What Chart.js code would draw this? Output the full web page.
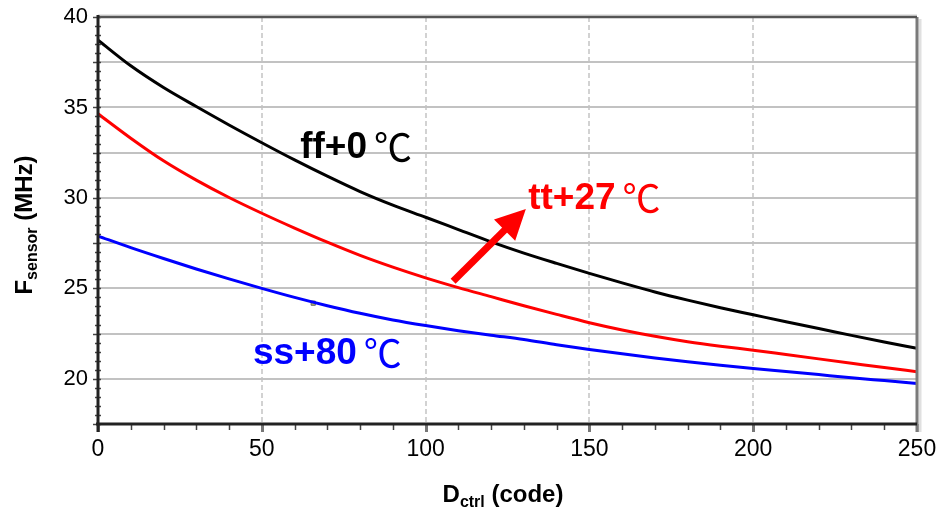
<!DOCTYPE html>
<html>
<head>
<meta charset="utf-8">
<script src="https://cdn.jsdelivr.net/npm/chart.js@4.4.1/dist/chart.umd.min.js"></script>
<style>
  body { margin: 0; background: #fff; }
  #wrap { width: 939px; height: 510px; }
</style>
</head>
<body>
<div id="wrap"><canvas id="sensor" width="939" height="510"></canvas></div>
<script>
// values
var codes = [0, 10, 20, 30, 40, 50, 60, 70, 80, 90, 100, 110, 120, 130, 140, 150, 160, 170, 180, 190, 200, 210, 220, 230, 240, 250];
var ffValues = [38.72, 37.3, 36.1, 35.05, 34.03, 33.05, 32.1, 31.2, 30.35, 29.6, 28.93, 28.25, 27.57, 26.95, 26.38, 25.83, 25.3, 24.8, 24.35, 23.93, 23.54, 23.15, 22.78, 22.4, 22.03, 21.68];
var ttValues = [34.65, 33.3, 32.05, 30.98, 30.02, 29.15, 28.33, 27.55, 26.82, 26.17, 25.58, 25.04, 24.54, 24.04, 23.56, 23.1, 22.7, 22.35, 22.05, 21.8, 21.58, 21.34, 21.1, 20.86, 20.62, 20.39];
var ssValues = [27.89, 27.25, 26.65, 26.07, 25.52, 25.0, 24.5, 24.04, 23.62, 23.25, 22.94, 22.66, 22.41, 22.17, 21.88, 21.62, 21.38, 21.15, 20.94, 20.75, 20.57, 20.4, 20.23, 20.06, 19.9, 19.74];
var markerCode = [65.7];
var markerValue = [24.18];

var seriesNames = ['ff+0', 'tt+27', 'ss+80'];
var seriesColors = ['#000000', '#ff0000', '#0000ff'];

var yMin = 17.5, yMax = 40, yStep = 2.5;
var xMin = 0, xMax = 250, xStep = 50;

// annotation anchors in data units (code, MHz)
var notes = [
  { text: 'ff+0', x: 61.7, y: 32.2, color: '#000000' },
  { text: 'tt+27', x: 131.3, y: 29.39, color: '#ff0000' },
  { text: 'ss+80', x: 47.3, y: 20.83, color: '#0000ff' }
];
var arrowFrom = { x: 108.4, y: 25.39 };
var arrowTo = { x: 130.6, y: 29.39 };

var SANS = '"Liberation Sans", Arial, sans-serif';

function pts(xs, ys) {
  var out = [];
  for (var i = 0; i < xs.length; i++) out.push({ x: xs[i], y: ys[i] });
  return out;
}

//draws text made of runs, some of them subscripts
function richText(ctx, parts, cx, baseY) {
  var total = 0;
  parts.forEach(function (p) {
    ctx.font = 'bold ' + p.size + 'px ' + SANS;
    p.w = ctx.measureText(p.t).width;
    total += p.w;
  });
  var x = cx - total / 2;
  ctx.textAlign = 'left';
  ctx.textBaseline = 'alphabetic';
  parts.forEach(function (p) {
    ctx.font = 'bold ' + p.size + 'px ' + SANS;
    ctx.fillText(p.t, x, baseY + (p.dy || 0));
    x += p.w;
  });
}

var framePlugin = {
  id: 'frame',
  afterDatasetsDraw: function (chart) {
    var ctx = chart.ctx, a = chart.chartArea;
    var xs = chart.scales.x, ys = chart.scales.y;
    ctx.save();
    // minor ticks on the left axis
    ctx.strokeStyle = '#444';
    ctx.lineWidth = 1.5;
    for (var v = yMin; v <= yMax + 0.001; v += 0.5) {
      var py = Math.round(ys.getPixelForValue(v)) + 0.5;
      var major = Math.abs(v / yStep - Math.round(v / yStep)) < 0.001;
      ctx.beginPath();
      ctx.moveTo(a.left - (major ? 5 : 3), py);
      ctx.lineTo(a.left + 3, py);
      ctx.stroke();
    }
    // minor ticks under the bottom axis
    for (var c = xMin; c <= xMax; c += 10) {
      var px = Math.round(xs.getPixelForValue(c)) + 0.5;
      var big = c % xStep === 0;
      ctx.strokeStyle = big ? '#777' : '#444';
      ctx.lineWidth = big ? 3 : 1.5;
      ctx.beginPath();
      ctx.moveTo(px, a.bottom);
      ctx.lineTo(px, a.bottom + (big ? 8 : 6));
      ctx.stroke();
    }
    // right edge with shadow
    ctx.strokeStyle = '#e0e0e0';
    ctx.lineWidth = 3;
    ctx.beginPath();
    ctx.moveTo(a.right + 3, a.top + 2);
    ctx.lineTo(a.right + 3, a.bottom + 8);
    ctx.stroke();
    ctx.strokeStyle = '#7a7a7a';
    ctx.lineWidth = 3;
    ctx.beginPath();
    ctx.moveTo(a.right, a.top);
    ctx.lineTo(a.right, a.bottom + 8);
    ctx.stroke();
    // top edge
    ctx.strokeStyle = '#e6e6e6';
    ctx.lineWidth = 2;
    ctx.beginPath();
    ctx.moveTo(a.left, a.top - 2);
    ctx.lineTo(a.right, a.top - 2);
    ctx.stroke();
    ctx.strokeStyle = '#555';
    ctx.lineWidth = 2.5;
    ctx.beginPath();
    ctx.moveTo(a.left, a.top);
    ctx.lineTo(a.right, a.top);
    ctx.stroke();
    // left and bottom axes
    ctx.strokeStyle = '#222';
    ctx.lineWidth = 3;
    ctx.beginPath();
    ctx.moveTo(a.left, a.top - 2);
    ctx.lineTo(a.left, a.bottom + 8);
    ctx.moveTo(a.left - 2, a.bottom);
    ctx.lineTo(a.right, a.bottom);
    ctx.stroke();
    ctx.restore();
  },
  afterDraw: function (chart) {
    var ctx = chart.ctx, a = chart.chartArea;
    var xs = chart.scales.x, ys = chart.scales.y;
    ctx.save();
    ctx.fillStyle = '#000';
    // axis titles
    richText(ctx, [{ t: 'D', size: 24 }, { t: 'ctrl', size: 16, dy: 5 }, { t: ' (code)', size: 24 }], 503, 502);
    ctx.save();
    ctx.translate(32, 225);
    ctx.rotate(-Math.PI / 2);
    richText(ctx, [{ t: 'F', size: 24 }, { t: 'sensor', size: 16, dy: 5 }, { t: ' (MHz)', size: 24 }], 0, 0);
    ctx.restore();

    // curve names
    notes.forEach(function (n) {
      var px = xs.getPixelForValue(n.x), py = ys.getPixelForValue(n.y);
      ctx.fillStyle = n.color;
      ctx.textAlign = 'left';
      ctx.textBaseline = 'alphabetic';
      ctx.font = 'bold 37px ' + SANS;
      ctx.fillText(n.text, px, py);
      var w = ctx.measureText(n.text).width;
      ctx.font = '38px "Noto Sans CJK SC", sans-serif';
      ctx.fillText('\u2103', px + w + 7, py + 3);
    });

    // red arrow
    var x0 = xs.getPixelForValue(arrowFrom.x), y0 = ys.getPixelForValue(arrowFrom.y);
    var x1 = xs.getPixelForValue(arrowTo.x), y1 = ys.getPixelForValue(arrowTo.y);
    var ang = Math.atan2(y1 - y0, x1 - x0);
    var head = 30, half = 15;
    var bx = x1 - head * Math.cos(ang), by = y1 - head * Math.sin(ang);
    ctx.strokeStyle = '#ff0000';
    ctx.fillStyle = '#ff0000';
    ctx.lineWidth = 7;
    ctx.beginPath();
    ctx.moveTo(x0, y0);
    ctx.lineTo(bx + 2 * Math.cos(ang), by + 2 * Math.sin(ang));
    ctx.stroke();
    ctx.beginPath();
    ctx.moveTo(x1, y1);
    ctx.lineTo(bx + half * Math.sin(ang), by - half * Math.cos(ang));
    ctx.lineTo(bx - half * Math.sin(ang), by + half * Math.cos(ang));
    ctx.closePath();
    ctx.fill();
    ctx.restore();
  }
};

var datasets = [];
for (var i = 0; i < seriesNames.length; i++) {
  datasets.push({
    label: seriesNames[i],
    data: pts(codes, [ffValues, ttValues, ssValues][i]),
    borderColor: seriesColors[i],
    borderWidth: 3,
    pointRadius: 0,
    cubicInterpolationMode: 'monotone',
    fill: false
  });
}
datasets.push({
  label: 'marker',
  data: pts(markerCode, markerValue),
  showLine: false,
  pointStyle: 'rect',
  pointRadius: 3,
  pointBackgroundColor: '#b8b860',
  pointBorderColor: '#666',
  pointBorderWidth: 1
});

var chart = new Chart(document.getElementById('sensor').getContext('2d'), {
  type: 'line',
  data: { datasets: datasets },
  options: {
    responsive: false,
    animation: false,
    layout: { padding: { left: 0, top: 17, right: 22, bottom: 0 } },
    plugins: { legend: { display: false }, tooltip: { enabled: false } },
    scales: {
      x: {
        type: 'linear',
        min: xMin,
        max: xMax,
        border: { display: false, dash: [5, 3] },
        ticks: { stepSize: xStep, padding: 0, color: '#000', font: { family: SANS, size: 23 }, maxRotation: 0 },
        grid: {
          drawTicks: true,
          tickLength: 12,
          tickColor: 'rgba(0,0,0,0)',
          lineWidth: 2,
          color: function (c) { return (c.tick.value === xMin || c.tick.value === xMax) ? 'rgba(0,0,0,0)' : '#d2d2d2'; }
        },
        afterFit: function (s) { s.height = 86; }
      },
      y: {
        type: 'linear',
        min: yMin,
        max: yMax,
        border: { display: false },
        ticks: {
          stepSize: yStep,
          padding: 0,
          color: '#000',
          font: { family: SANS, size: 22 },
          callback: function (v) { return v % 5 === 0 ? v : ''; }
        },
        grid: { drawTicks: true, tickLength: 10, tickColor: 'rgba(0,0,0,0)', lineWidth: 2, color: '#c2c2c2' },
        afterFit: function (s) { s.width = 98; }
      }
    }
  },
  plugins: [framePlugin]
});
</script>
</body>
</html>
